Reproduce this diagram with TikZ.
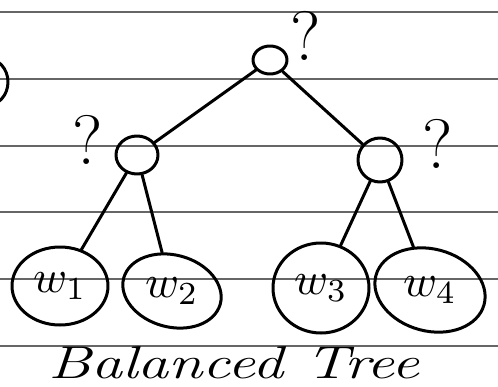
\documentclass[tikz,border=0pt]{standalone}
\usetikzlibrary{shapes.geometric}
\begin{document}
\begin{tikzpicture}[x=1pt,y=-1pt,
  ink/.style={line width=3pt,black,line cap=round,line join=round},
  rule/.style={line width=1.1pt,black!60},
  inner/.style={ellipse,draw,ink,inner sep=0pt},
  leaf/.style={ellipse,draw,ink,inner sep=0pt},
  lbl/.style={inner sep=0pt},
  qmark/.style={font=\fontsize{70}{70}\selectfont,inner sep=0pt}]
\useasboundingbox (0,0) rectangle (498,386);
\clip (0,0) rectangle (498,386);
\fill[white] (0,0) rectangle (498,386);
\foreach \y in {12,79,146,212,279,346} \draw[rule] (0,\y) -- (498,\y);
\node[ellipse,draw,ink,minimum width=44,minimum height=48] (side) at (-14,82) {};
\node[inner,minimum width=34,minimum height=28] (root) at (270,60) {};
\node[inner,minimum width=42,minimum height=38] (lc) at (137,155) {};
\node[inner,minimum width=44,minimum height=44] (rc) at (380,160) {};
\node[leaf,minimum width=96,minimum height=78] (w1) at (60,286) {};
\node[leaf,minimum width=100,minimum height=72,rotate=-15] (w2) at (172,291) {};
\node[leaf,minimum width=96,minimum height=90] (w3) at (321,288) {};
\node[leaf,minimum width=112,minimum height=82,rotate=-15] (w4) at (430,290) {};
\node[lbl] (l1) at (w1.center) {\scalebox{4.6}{$w_1$}};
\node[lbl] (l2) at (w2.center) {\scalebox{4.6}{$w_2$}};
\node[lbl] (l3) at (w3.center) {\scalebox{4.6}{$w_3$}};
\node[lbl] (l4) at (w4.center) {\scalebox{4.6}{$w_4$}};
\node[qmark] (q0) at (306,36) {?};
\node[qmark] (q1) at (88,140) {?};
\node[qmark] (q2) at (438,144) {?};
\draw[ink] (root) -- (lc);
\draw[ink] (root) -- (rc);
\draw[ink] (lc) -- (w1);
\draw[ink] (lc) -- (w2);
\draw[ink] (rc) -- (w3);
\draw[ink] (rc) -- (w4);
\node[font=\itshape\fontsize{46}{46}\selectfont,inner sep=0pt,anchor=base,xscale=1.35] (title) at (234,378) {Balanced Tree};
\end{tikzpicture}
\end{document}
